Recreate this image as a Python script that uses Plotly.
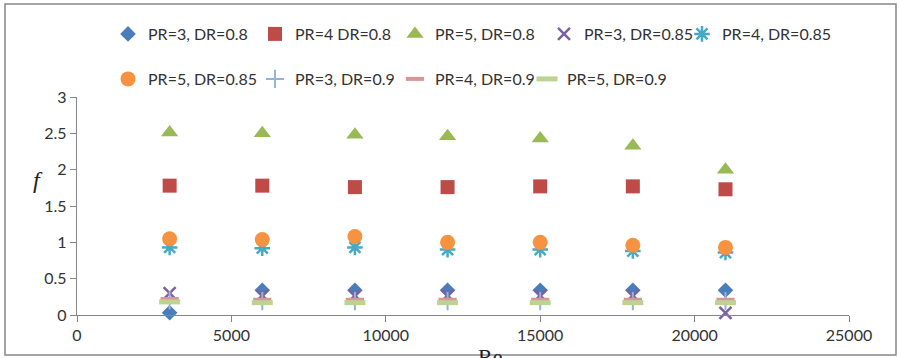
import plotly.graph_objects as go

# ---- data ----
re_vals = [3000, 6000, 9000, 12000, 15000, 18000, 21000]
pr3_dr080 = [0.03, 0.34, 0.34, 0.34, 0.34, 0.34, 0.34]
pr4_dr080 = [1.78, 1.78, 1.76, 1.76, 1.77, 1.77, 1.73]
pr5_dr080 = [2.51, 2.50, 2.48, 2.46, 2.43, 2.33, 2.00]
pr3_dr085 = [0.30, 0.27, 0.27, 0.27, 0.27, 0.27, 0.03]
pr4_dr085 = [0.93, 0.92, 0.93, 0.90, 0.90, 0.88, 0.86]
pr5_dr085 = [1.05, 1.04, 1.08, 1.00, 1.00, 0.96, 0.93]
pr3_dr090 = [0.20, 0.19, 0.19, 0.19, 0.19, 0.19, 0.19]
pr4_dr090 = [0.22, 0.21, 0.21, 0.21, 0.21, 0.21, 0.21]
pr5_dr090 = [0.18, 0.17, 0.17, 0.17, 0.17, 0.17, 0.17]

series_names = ["PR=3, DR=0.8", "PR=4 DR=0.8", "PR=5, DR=0.8",
                "PR=3, DR=0.85", "PR=4, DR=0.85", "PR=5, DR=0.85",
                "PR=3, DR=0.9", "PR=4, DR=0.9", "PR=5, DR=0.9"]
series_values = [pr3_dr080, pr4_dr080, pr5_dr080,
                 pr3_dr085, pr4_dr085, pr5_dr085,
                 pr3_dr090, pr4_dr090, pr5_dr090]

x_ticks = [0, 5000, 10000, 15000, 20000, 25000]
y_ticks = [0, 0.5, 1, 1.5, 2, 2.5, 3]
y_tick_text = ["0", "0.5", "1", "1.5", "2", "2.5", "3"]

# ---- styles ----
FONT = "Lato"
TXT = "#333333"

markers = [
    dict(symbol="diamond", size=12, color="#4A7EBB"),
    dict(symbol="square", size=14, color="#BE4B48"),
    dict(symbol="triangle-up", size=15, color="#98B954"),
    dict(symbol="x-thin-open", size=12, color="#7D60A0", line=dict(width=2.5, color="#7D60A0")),
    dict(symbol="asterisk-open", size=13, color="#46AAC5", line=dict(width=2.5, color="#46AAC5")),
    dict(symbol="circle", size=15, color="#F69240"),
    dict(symbol="cross-thin-open", size=13, color="#95B3D7", line=dict(width=2, color="#95B3D7")),
    dict(symbol="line-ew-open", size=13, color="#D99694", line=dict(width=4, color="#D99694")),
    dict(symbol="line-ew-open", size=15, color="#BDD392", line=dict(width=5, color="#BDD392")),
]
# legend entry marker positions in pixels (x, y)
legend_pos = [(128, 34), (275, 34), (415, 34), (564, 34), (702, 34),
              (128, 79), (275, 79), (415, 79), (547, 79)]

W, H = 900, 358
fig = go.Figure()
legend_layouts = {}
for i, (name, vals, mk, (lx, ly)) in enumerate(zip(series_names, series_values, markers, legend_pos)):
    key = "legend" if i == 0 else f"legend{i + 1}"
    fig.add_trace(go.Scatter(x=re_vals, y=vals, mode="markers", name=name,
                             marker=mk, legend=key, cliponaxis=False))
    legend_layouts[key] = dict(
        orientation="h", xref="container", yref="container",
        x=(lx - 20) / W, y=1 - ly / H, xanchor="left", yanchor="middle",
        font=dict(family=FONT, size=16, color=TXT), bgcolor="rgba(0,0,0,0)", itemwidth=30)

axis_common = dict(showgrid=False, zeroline=False, showline=True, linecolor="#868686",
                   linewidth=1.3, ticks="outside", ticklen=6, tickcolor="#868686",
                   tickwidth=1.3, tickfont=dict(family=FONT, size=16, color=TXT))

fig.update_xaxes(range=[0, 25000], tickvals=x_ticks, ticktext=[str(v) for v in x_ticks], **axis_common)
fig.update_yaxes(range=[0, 3], tickvals=y_ticks, ticktext=y_tick_text, **axis_common)

fig.update_layout(
    width=W, height=H,
    margin=dict(l=77, r=51, t=97, b=43, autoexpand=False),
    plot_bgcolor="white", paper_bgcolor="white",
    showlegend=True,
    annotations=[
        dict(text="<i>f</i>", xref="paper", yref="paper", x=(31 - 77) / 772, y=(315 - 180) / 218,
             showarrow=False, font=dict(family="Liberation Serif", size=24, color="#222222")),
        dict(text="Re", xref="paper", yref="paper", x=(490 - 77) / 772, y=(315 - 342) / 218,
             yanchor="top", xanchor="center", showarrow=False,
             font=dict(family="Liberation Serif", size=22, color="#222222")),
    ],
    shapes=[
        dict(type="rect", xref="paper", yref="paper",
             x0=(5 - 77) / 772, x1=(896 - 77) / 772, y0=(315 - 355) / 218, y1=(315 - 4) / 218,
             line=dict(color="#878787", width=1.5), fillcolor="rgba(0,0,0,0)", layer="below"),
    ],
    **legend_layouts,
)

fig.write_html("out.html", config={"displayModeBar": False},
               post_script="document.body.style.margin='0';document.body.style.overflow='hidden';")
